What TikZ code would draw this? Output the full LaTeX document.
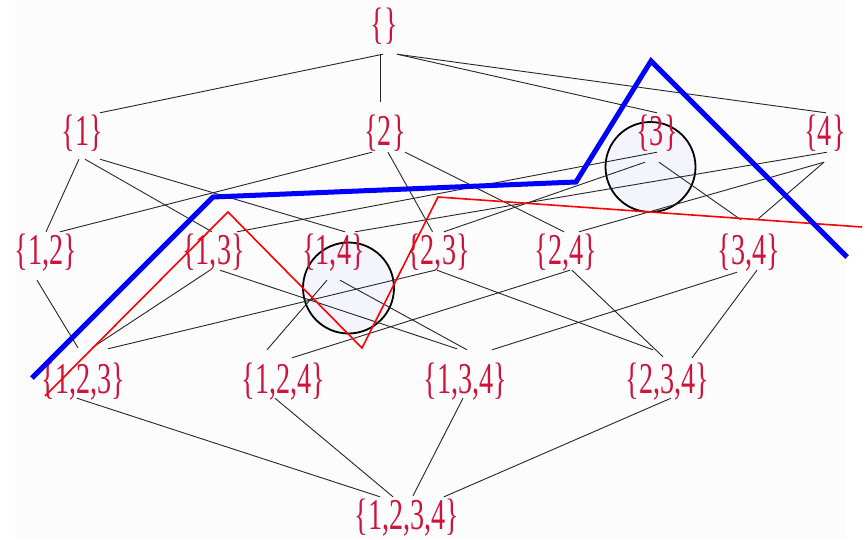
\documentclass[tikz,border=0pt]{standalone}
\usepackage{fontspec}
\setmainfont{Liberation Serif}
\usetikzlibrary{calc}
\definecolor{lblred}{RGB}{205,20,60}
\definecolor{circfill}{RGB}{244,244,253}
\definecolor{bgc}{RGB}{252,252,252}
\newcommand\setlbl[1]{\scalebox{0.64}[1]{\{#1\}}}
\pgfdeclarelayer{bglayer}
\pgfdeclarelayer{midlayer}
\pgfsetlayers{bglayer,midlayer,main}
\begin{document}
\begin{tikzpicture}[x=1pt,y=-1pt,
  lbl/.style={anchor=base, inner xsep=0pt, inner ysep=0pt, text=lblred,
              font=\fontsize{44pt}{44pt}\selectfont},
  lvtop/.style={lbl, text height=30pt, text depth=16pt},
  lvmid/.style={lbl, text height=32pt, text depth=14pt},
  lvlow/.style={lbl, text height=43pt, text depth=5pt},
  lnk/.style={draw=black!85, line width=0.9pt},
  ring/.style={draw=black, line width=1.8pt, fill=circfill},
  bluepath/.style={draw=blue, line width=5pt, line join=miter},
  redpath/.style={draw=red, line width=1.6pt, line join=miter}]
\useasboundingbox (0,0) rectangle (868,539);
\begin{pgfonlayer}{bglayer}
  \fill[white] (0,0) rectangle (868,539);
  \fill[bgc] (15,0) rectangle (846,539);
  \draw[ring] (650.5,167) circle[radius=45pt];
  \draw[ring] (348.5,288) circle[radius=45.5pt];
\end{pgfonlayer}
% level 0
\node[lvtop] (e) at (384,38) {\setlbl{}};
% level 1
\node[lvmid] (a1) at (82.5,145) {\setlbl{1}};
\node[lvmid] (a2) at (385,145) {\setlbl{2}};
\node[lvmid] (a3) at (657,145) {\setlbl{3}};
\node[lvmid] (a4) at (825,145) {\setlbl{4}};
% level 2
\node[lvmid] (b12) at (46,264) {\setlbl{1,2}};
\node[lvmid] (b13) at (213.5,264) {\setlbl{1,3}};
\node[lvmid] (b14) at (333.5,264) {\setlbl{1,4}};
\node[lvmid] (b23) at (438.5,264) {\setlbl{2,3}};
\node[lvmid] (b24) at (566,264) {\setlbl{2,4}};
\node[lvmid] (b34) at (749,264) {\setlbl{3,4}};
% level 3
\node[lvlow] (c123) at (83.5,393) {\setlbl{1,2,3}};
\node[lvlow] (c124) at (283.5,393) {\setlbl{1,2,4}};
\node[lvlow] (c134) at (465.5,393) {\setlbl{1,3,4}};
\node[lvlow] (c234) at (667.5,393) {\setlbl{2,3,4}};
% level 4
\node[lvmid] (d) at (407,529) {\setlbl{1,2,3,4}};
\begin{pgfonlayer}{midlayer}
  % level 0 -> 1
  \draw[lnk] ($(e.south)+(-1,0)$) -- ($(a1.north)+(17.5,0)$);
  \draw[lnk] ($(e.south)+(-4,0)$) -- ($(a2.north)+(-5,-11)$);
  \draw[lnk] ($(e.south)+(13,0)$) -- (a3.north);
  \draw[lnk] ($(e.south)+(13,0)$) -- ($(a4.north)+(1,0)$);
  % level 1 -> 2
  \draw[lnk] ($(a1.south)+(-3.5,0)$) -- (b12.north);
  \draw[lnk] ($(a1.south)+(2.5,0)$) -- ($(b13.north)+(-1.5,0)$);
  \draw[lnk] ($(a1.south)+(17.5,0)$) -- ($(b14.north)+(11.5,0)$);
  \draw[lnk] ($(a2.south)+(-13,-7)$) -- ($(b12.north)+(14,0)$);
  \draw[lnk] ($(a2.south)+(3,-7)$) -- ($(b23.north)+(-6,0)$);
  \draw[lnk] ($(a2.south)+(20,-7)$) -- ($(b24.north)+(-2,0)$);
  \draw[lnk] ($(a3.south)+(0,-7)$) -- ($(b13.north)+(23.5,0)$);
  \draw[lnk] ($(a3.south)+(-12,3)$) -- ($(b23.north)+(5.5,0)$);
  \draw[lnk] ($(a3.south)+(2,3)$) -- ($(b34.north)+(-8,-12)$);
  \draw[lnk] ($(a4.south)+(2,-7)$) -- ($(b14.north)+(21.5,0)$);
  \draw[lnk] ($(a4.south)+(-1,3)$) -- ($(b24.north)+(13,0)$);
  \draw[lnk] ($(a4.south)+(-1,3)$) -- ($(b34.north)+(8,-12)$);
  % level 2 -> 3
  \draw[lnk] ($(b12.south)+(-9,2)$) -- ($(c123.north)+(-5.5,-2)$);
  \draw[lnk] ($(b13.south)+(-3.5,-8)$) -- ($(c123.north)+(8.5,-2)$);
  \draw[lnk] ($(b23.south)+(-3.5,-8)$) -- ($(c123.north)+(24.5,-1)$);
  \draw[lnk] ($(b13.south)+(6.5,-8)$) -- ($(c134.north)+(-8.5,-1)$);
  \draw[lnk] ($(b14.south)+(-6.5,2)$) -- ($(c124.north)+(-16.5,0)$);
  \draw[lnk] ($(b14.south)+(6.5,2)$) -- ($(c134.north)+(1.5,0)$);
  \draw[lnk] ($(b23.south)+(-1.5,-8)$) -- ($(c234.north)+(-14.5,0)$);
  \draw[lnk] ($(b24.south)+(4,-8)$) -- ($(c124.north)+(8.5,8)$);
  \draw[lnk] ($(b24.south)+(6,-8)$) -- ($(c234.north)+(-4.5,7)$);
  \draw[lnk] ($(b34.south)+(-12,-6)$) -- ($(c134.north)+(26.5,0)$);
  \draw[lnk] ($(b34.south)+(8,-8)$) -- ($(c234.north)+(24.5,8)$);
  % level 3 -> 4
  \draw[lnk] ($(c123.south)+(-6.5,0)$) -- ($(d.north)+(-27,0)$);
  \draw[lnk] ($(c124.south)+(-8.5,0)$) -- ($(d.north)+(-14,0)$);
  \draw[lnk] ($(c134.south)+(-2.5,0)$) -- ($(d.north)+(6,-1)$);
  \draw[lnk] ($(c234.south)+(3.5,0)$) -- ($(d.north)+(37,0)$);
\end{pgfonlayer}
\draw[redpath] (45,396) -- (228,212) -- (362,348) -- (438,197) -- (862,227);
\draw[bluepath] (32,378) -- (213,197) -- (576,182) -- (651,61) -- (847,257);
\end{tikzpicture}
\end{document}
